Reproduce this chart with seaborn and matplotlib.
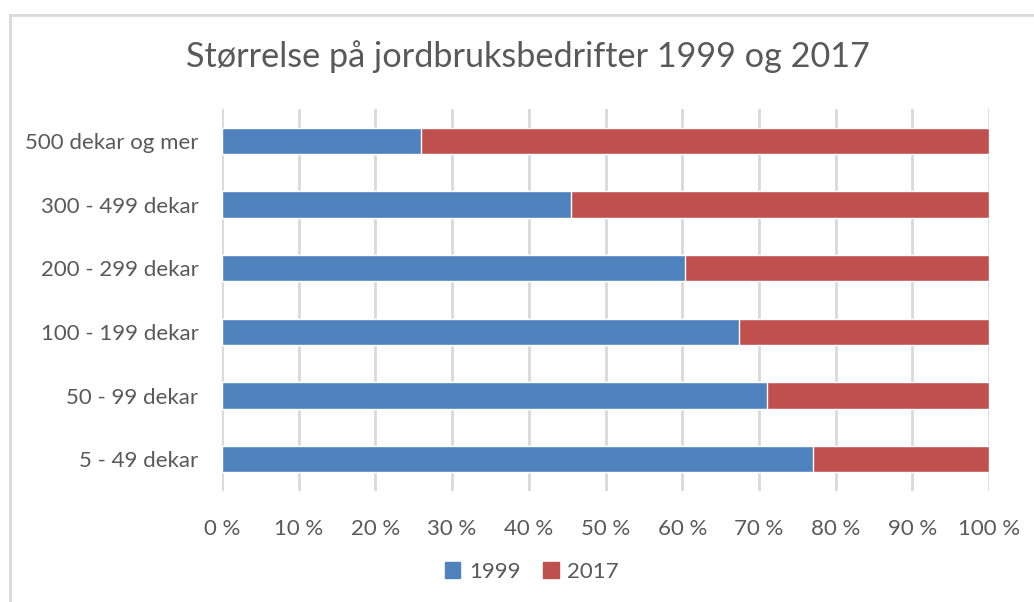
import numpy as np
import pandas as pd
import matplotlib
matplotlib.use("Agg")
import matplotlib.pyplot as plt
import seaborn as sns
from matplotlib.patches import Rectangle, Patch
from matplotlib.ticker import FuncFormatter

# data (top to bottom)
kategorier = ["500 dekar og mer", "300 - 499 dekar", "200 - 299 dekar",
              "100 - 199 dekar", "50 - 99 dekar", "5 - 49 dekar"]
andel_1999 = [25.9, 45.5, 60.4, 67.4, 71.1, 77.1]
andel_2017 = [74.1, 54.5, 39.6, 32.6, 28.9, 22.9]

BLUE = "#4F81BD"
RED = "#C0504D"
GREY_TXT = "#595959"
GRID = "#D9D9D9"

sns.set_theme(style="white")
plt.rcParams['font.family'] = ['Lato', 'DejaVu Sans']

df = pd.DataFrame({"kategori": kategorier, "1999": andel_1999, "2017": andel_2017})
df["total"] = df["1999"] + df["2017"]

fig = plt.figure(figsize=(10.34, 6.02), dpi=100)
ax = fig.add_axes([222/1034, 1 - 491/602, (989-222)/1034, (491-109)/602])

sns.barplot(data=df, y="kategori", x="total", color=RED, orient="h",
            width=0.41, ax=ax, saturation=1, zorder=3)
sns.barplot(data=df, y="kategori", x="1999", color=BLUE, orient="h",
            width=0.41, ax=ax, saturation=1, zorder=4)

ax.set_xlim(0, 100)
ax.set_ylim(5.5, -0.5)
ax.set_xticks(np.arange(0, 101, 10))
ax.xaxis.set_major_formatter(FuncFormatter(lambda v, p: f"{int(v)}\u202f%"))
ax.grid(axis="x", color=GRID, linewidth=2, zorder=0)
ax.grid(axis="y", visible=False)
for s in ax.spines.values():
    s.set_visible(False)
ax.tick_params(axis="both", length=0, labelsize=16, labelcolor=GREY_TXT)
ax.tick_params(axis="x", pad=20)
ax.tick_params(axis="y", pad=17)
ax.set_xlabel("")
ax.set_ylabel("")

fig.text(528/1034, 1 - 57/602, "Størrelse på jordbruksbedrifter 1999 og 2017",
         ha="center", va="center", fontsize=24.7, color=GREY_TXT)

handles = [Patch(color=BLUE, label="1999"), Patch(color=RED, label="2017")]
fig.legend(handles=handles, loc="center", bbox_to_anchor=(532/1034, 1 - 572/602),
           ncol=2, frameon=False, fontsize=16, labelcolor=GREY_TXT,
           handlelength=0.7, handleheight=0.7, handletextpad=0.4, columnspacing=1.0)

fig.patches.append(Rectangle((10/1034, -0.1), 1.2, 1 - 15/602 + 0.1,
                             transform=fig.transFigure, fill=False,
                             edgecolor=GRID, linewidth=2))

fig.savefig("out.png", dpi=100)
